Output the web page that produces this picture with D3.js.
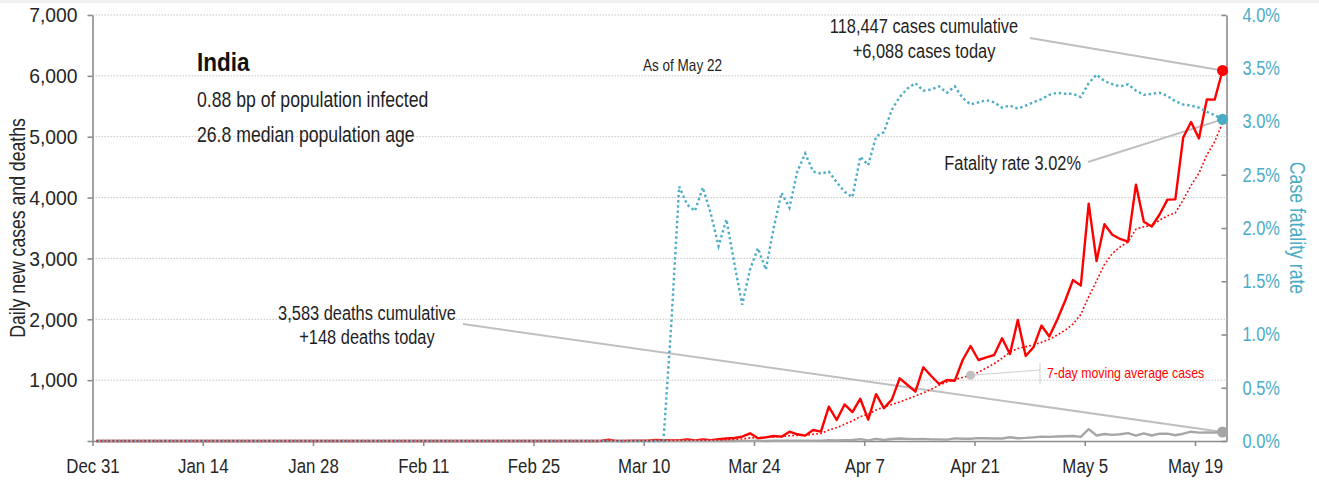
<!DOCTYPE html>
<html><head><meta charset="utf-8">
<script src="https://cdn.jsdelivr.net/npm/d3@7"></script>
<style>
html,body{margin:0;padding:0;background:#fff;}
svg{display:block;}
text{font-family:"Liberation Sans",Arial,sans-serif;}
</style></head><body>
<svg id="chart" width="1319" height="482"></svg>
<script>
// ---- data (index 0 = Dec 31, 2019; last = May 22, 2020) ----
const startDate = [2019, 11, 31];
const cases = [
  0,0,0,0,0,0,0,0,0,0, 0,0,0,0,0,0,0,0,0,0, 0,0,0,0,0,0,0,0,0,0,
  1,0,0,1,1,
  0,0,0,0,0,0,0,0,0,0, 0,0,0,0,0,0,0,0,0,0, 0,0,0,0,0,0,0,0,
  2,1,22,2,1,3,5,4,16,13,11,9,24,8,24,13,31,40,50,71,126,44,60,82,71,153,110,88,181,
  153,564,345,600,475,695,350,770,540,680,1030,920,811,1211,1068,937,1002,991,1331,1561,
  1331,1375,1413,1687,1430,1990,1397,1543,1897,1718,
  1993,2300,2644,2553,3900,2958,3561,3390,3320,3277,4213,3604,3525,3722,3967,3970,
  4987,5242,4970,5611,5609,6088
];
const deaths = [
  0,0,0,0,0,0,0,0,0,0, 0,0,0,0,0,0,0,0,0,0, 0,0,0,0,0,0,0,0,0,0,
  0,0,0,0,0,0,0,0,0,0, 0,0,0,0,0,0,0,0,0,0, 0,0,0,0,0,0,0,0,0,0,
  0,0,0,0,0,0,0,0,0,0, 0,0,0,
  1,1,0,0,1,0,1,0,1,2,2,3,1,3,4,3,5,5,3,
  6,12,9,12,16,30,11,35,17,33,40,35,31,35,27,26,23,43,36,36,
  47,46,41,42,61,46,51,60,71,67,
  73,77,83,68,195,90,115,100,110,130,88,126,90,120,122,95,
  120,153,137,142,138,148
];
const cfr = [
  0,0,0,0,0,0,0,0,0,0, 0,0,0,0,0,0,0,0,0,0, 0,0,0,0,0,0,0,0,0,0,
  0,0,0,0,0,0,0,0,0,0, 0,0,0,0,0,0,0,0,0,0, 0,0,0,0,0,0,0,0,0,0,
  0,0,0,0,0,0,0,0,0,0, 0,0,0,
  1.10,2.39,2.22,2.16,2.38,2.14,1.83,2.08,1.67,1.28,1.61,1.81,1.61,2.00,2.33,2.19,2.53,2.70,2.53,
  2.51,2.53,2.43,2.34,2.29,2.67,2.59,2.86,2.90,3.11,3.23,3.31,3.36,3.29,3.30,3.33,3.27,3.33,3.22,3.16,
  3.18,3.20,3.18,3.13,3.15,3.12,3.15,3.18,3.21,3.25,
  3.27,3.26,3.26,3.23,3.36,3.44,3.38,3.35,3.33,3.35,3.29,3.25,3.26,3.27,3.24,3.19,
  3.16,3.15,3.13,3.09,3.06,3.02
];
const movingAvg = [
  0,0,0,0,0,0,0,0,0,0, 0,0,0,0,0,0,0,0,0,0, 0,0,0,0,0,0,0,0,0,0,
  0,0,0,0,0,0,0,0,0,0, 0,0,0,0,0,0,0,0,0,0, 0,0,0,0,0,0,0,0,0,0,
  0,0,0,
  0.3,0.4,3.6,3.9,4,4.4,5.1,5.4,7.4,9,9.7,10.6,13.4,11.6,15,14.6,17.1,21.3,27.1,33.9,50.7,53.6,60.3,67.6,72,86.7,92.3,92.6,111,
  124,180,220,275,330,400,440,510,560,600,640,690,740,790,850,915,970,1010,1045,1080,
  1130,1200,1270,1360,1460,1520,1550,1580,1620,1670,
  1740,1820,1920,2080,2370,2630,2900,3080,3190,3270,3480,3520,3540,3630,3700,3750,
  3960,4200,4400,4700,4920,5230
];
const leftTicks = [0,1000,2000,3000,4000,5000,6000,7000];
const rightTicks = [0,0.5,1,1.5,2,2.5,3,3.5,4];
const dateTicks = ["2019-12-31","2020-01-14","2020-01-28","2020-02-11","2020-02-25","2020-03-10","2020-03-24","2020-04-07","2020-04-21","2020-05-05","2020-05-19"];
const domainEnd = "2020-05-23";
const maLabelIndex = 111;

// ---- build ----
const svg = d3.select("#chart");
const W = 1319, H = 482;
const pL = 92.5, pR = 1226.5, pT = 15, pB = 441;
const parse = d3.timeParse("%Y-%m-%d");
const start = new Date(startDate[0], startDate[1], startDate[2]);
const x = d3.scaleTime().domain([start, parse(domainEnd)]).range([pL, pR]);
const yL = d3.scaleLinear().domain([0, 7000]).range([pB, pT]);
const yR = d3.scaleLinear().domain([0, 4]).range([pB, pT]);
const dateOf = i => d3.timeHour.offset(d3.timeDay.offset(start, i), 12);

const RED = "#ff0000", BLUE = "#4bacc6", GRAY = "#a6a6a6", AXIS = "#8c8c8c", TXT = "#1f1f1f", LINK = "#bfbfbf";

// condensed look: compress glyphs horizontally
function squeeze(sel, f) {
  sel.each(function () {
    const w = this.getComputedTextLength();
    if (w > 0) d3.select(this).attr("textLength", w * f).attr("lengthAdjust", "spacingAndGlyphs");
  });
}

svg.append("rect").attr("x",0).attr("y",0).attr("width",W).attr("height",3).attr("fill","#f0f0f0");

// gridlines
svg.append("g").selectAll("line").data(leftTicks.filter(d => d > 0)).join("line")
  .attr("x1", pL).attr("x2", pR)
  .attr("y1", d => yL(d)).attr("y2", d => yL(d))
  .attr("stroke", "#c4c4c4").attr("stroke-width", 1).attr("stroke-dasharray", "1.5,1.5");

// axes
const gL = svg.append("g").attr("transform", `translate(${pL},0)`)
  .call(d3.axisLeft(yL).tickValues(leftTicks).tickFormat(d => d === 0 ? "" : d3.format(",")(d))
        .tickSize(5).tickSizeOuter(0).tickPadding(10));
const gB = svg.append("g").attr("transform", `translate(0,${pB})`)
  .call(d3.axisBottom(x).tickValues(dateTicks.map(parse)).tickFormat(d3.timeFormat("%b %-d"))
        .tickSize(5).tickSizeOuter(0).tickPadding(12));
const gR = svg.append("g").attr("transform", `translate(${pR},0)`)
  .call(d3.axisRight(yR).tickValues(rightTicks).tickFormat(d => d.toFixed(1) + "%")
        .tickSizeInner(-5).tickSizeOuter(0).tickPadding(16));
[gL, gB, gR].forEach(g => {
  g.select(".domain").attr("stroke", AXIS).attr("stroke-width", 1.6);
  g.selectAll(".tick line").attr("stroke", AXIS).attr("stroke-width", 1.6);
  g.selectAll("text").attr("font-family", null).attr("fill", "#262626");
});
gL.selectAll("text").attr("font-size", 21);
gB.selectAll("text").attr("font-size", 20.5);
gR.selectAll("text").attr("font-size", 20).attr("fill", BLUE);
squeeze(gL.selectAll("text"), 0.92);
squeeze(gB.selectAll("text"), 0.82);
squeeze(gR.selectAll("text"), 0.82);

// axis titles
const t1 = svg.append("text").attr("transform", `translate(25,${(pT+pB)/2}) rotate(-90)`)
  .attr("text-anchor","middle").attr("font-size",21.5).attr("fill","#262626")
  .text("Daily new cases and deaths");
const t2 = svg.append("text").attr("transform", `translate(1290,${(pT+pB)/2}) rotate(90)`)
  .attr("text-anchor","middle").attr("font-size",21.5).attr("fill",BLUE)
  .text("Case fatality rate");
squeeze(t1, 0.82); squeeze(t2, 0.82);

// annotation connectors (behind series)
const last = cases.length - 1;
const pCase = [x(dateOf(last)), yL(cases[last])];
const pCfr = [x(dateOf(last)), yR(cfr[last])];
const pDeath = [x(dateOf(last)), yL(deaths[last])];
const pMa = [x(dateOf(maLabelIndex)), yL(movingAvg[maLabelIndex])];
const links = [
  [[1030, 38], pCase],
  [[1088, 162], pCfr],
  [[463, 324], pDeath]
];
svg.append("g").selectAll("line").data(links).join("line")
  .attr("x1", d => d[0][0]).attr("y1", d => d[0][1])
  .attr("x2", d => d[1][0]).attr("y2", d => d[1][1])
  .attr("stroke", LINK).attr("stroke-width", 2);
svg.append("line").attr("x1", 1040).attr("y1", 370).attr("x2", pMa[0]).attr("y2", pMa[1])
  .attr("stroke", "#cfcfcf").attr("stroke-width", 1);
svg.append("line").attr("x1", 1040).attr("y1", 363).attr("x2", 1040).attr("y2", 384)
  .attr("stroke", "#cfcfcf").attr("stroke-width", 1);

// series
const idx = d3.range(cases.length);
const lineL = arr => d3.line().x(i => x(dateOf(i))).y(i => yL(arr[i]))(idx);
const lineR = arr => d3.line().x(i => x(dateOf(i))).y(i => yR(arr[i]))(idx);

svg.append("path").attr("d", lineL(cases)).attr("fill","none").attr("stroke",RED)
  .attr("stroke-width",2.4).attr("stroke-linejoin","round");
svg.append("path").attr("d", lineL(deaths)).attr("fill","none").attr("stroke",GRAY)
  .attr("stroke-width",2.4).attr("stroke-linejoin","round");
svg.append("path").attr("d", lineR(cfr)).attr("fill","none").attr("stroke",BLUE)
  .attr("stroke-width",2.4).attr("stroke-dasharray","2.4,2.8");
svg.append("path").attr("d", lineL(movingAvg)).attr("fill","none").attr("stroke",RED)
  .attr("stroke-width",1.6).attr("stroke-dasharray","1.8,2.2");

// end dots
svg.append("circle").attr("cx", pCase[0]).attr("cy", pCase[1]).attr("r", 5.5).attr("fill", RED);
svg.append("circle").attr("cx", pCfr[0]).attr("cy", pCfr[1]).attr("r", 5.5).attr("fill", BLUE);
svg.append("circle").attr("cx", pDeath[0]).attr("cy", pDeath[1]).attr("r", 5.5).attr("fill", GRAY);
svg.append("circle").attr("cx", pMa[0]).attr("cy", pMa[1]).attr("r", 4.5).attr("fill", "#c0c0c0");

// texts
const txt = (xx, yy, s, size, anchor, fill, weight, f) => {
  const t = svg.append("text").attr("x", xx).attr("y", yy).attr("font-size", size)
    .attr("text-anchor", anchor || "start").attr("fill", fill || TXT)
    .attr("font-weight", weight || "normal").text(s);
  squeeze(t, f || 0.82);
  return t;
};

txt(197, 70.5, "India", 25, "start", "#111", "bold", 0.9);
txt(197, 106.5, "0.88 bp of population infected", 21.5);
txt(197, 141.5, "26.8 median population age", 21.5);
txt(643, 71, "As of May 22", 16.5);
txt(924, 33, "118,447 cases cumulative", 20, "middle");
txt(924, 58, "+6,088 cases today", 20, "middle");
txt(1081, 170, "Fatality rate 3.02%", 20, "end");
txt(367, 320, "3,583 deaths cumulative", 20, "middle");
txt(367, 344, "+148 deaths today", 20, "middle");
txt(1047, 378, "7-day moving average cases", 15, "start", RED);
</script>
</body></html>
